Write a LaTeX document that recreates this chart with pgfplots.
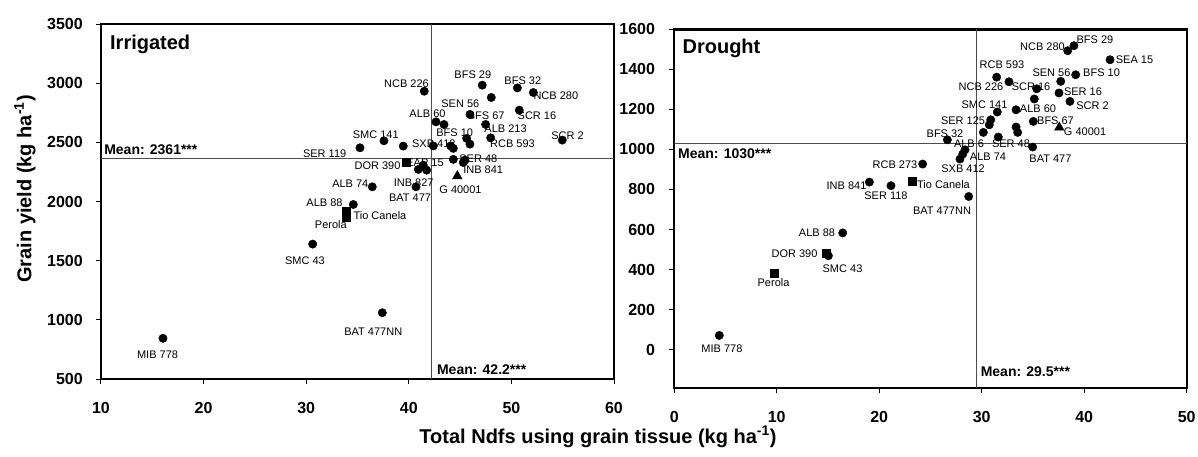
\documentclass[border=0pt]{standalone}
\usepackage{fontspec}
\setmainfont{Liberation Sans}
\usepackage{pgfplots}
\pgfplotsset{compat=1.18}
\newcommand{\lbl}{\fontsize{11}{13}\selectfont}
\newcommand{\mn}{\fontsize{14}{16}\selectfont\bfseries}
\pgfplotsset{
  myaxis/.style={
    scale only axis,
    anchor=south west,
    axis line style={line width=2.4pt},
    tick align=outside,
    major tick length=5pt,
    xtick pos=bottom, ytick pos=left,
    tick style={black, line width=1pt},
    ticklabel style={font=\fontsize{16}{18}\selectfont\bfseries, inner sep=0pt},
    /pgf/number format/assume math mode=true,
    /pgf/number format/1000 sep={},
    xticklabel style={anchor=north},
    yticklabel style={anchor=east},
    clip=false,
  },
  ptc/.style={only marks, mark=*, mark size=4.2pt, black},
  pts/.style={only marks, mark=square*, mark size=4pt, black},
  ptt/.style={only marks, mark=triangle*, mark size=5.5pt, black},
  mline/.style={gray!60!black, line width=0.8pt, no marks},
}
\begin{document}
\begin{tikzpicture}[x=1pt,y=1pt]
\useasboundingbox (-101pt,-77pt) rectangle (1097pt,379pt);
% ---------------- Irrigated ----------------
\begin{axis}[myaxis, at={(0pt,0pt)}, width=513pt, height=355pt,
  xmin=10, xmax=60, ymin=500, ymax=3500,
  xtick={10,20,...,60}, ytick={500,1000,...,3500},
  xticklabel shift=18pt, yticklabel shift=13pt]
\addplot[mline] coordinates {(10,2361) (60,2361)};
\addplot[mline] coordinates {(42.2,500) (42.2,3500)};
\node[font=\lbl, inner sep=0pt] at (axis cs:39.78,2997) {NCB 226};
\node[font=\lbl, inner sep=0pt] at (axis cs:46.24,3068) {BFS 29};
\node[font=\lbl, inner sep=0pt] at (axis cs:51.11,3025) {BFS 32};
\node[font=\lbl, inner sep=0pt] at (axis cs:54.33,2890) {NCB 280};
\node[font=\lbl, inner sep=0pt] at (axis cs:45.02,2829) {SEN 56};
\node[font=\lbl, inner sep=0pt] at (axis cs:47.54,2721) {BFS 67};
\node[font=\lbl, inner sep=0pt] at (axis cs:52.49,2721) {SCR 16};
\node[font=\lbl, inner sep=0pt] at (axis cs:41.82,2744) {ALB 60};
\node[font=\lbl, inner sep=0pt] at (axis cs:49.43,2614) {ALB 213};
\node[font=\lbl, inner sep=0pt] at (axis cs:44.47,2584) {BFS 10};
\node[font=\lbl, inner sep=0pt] at (axis cs:55.47,2552) {SCR 2};
\node[font=\lbl, inner sep=0pt] at (axis cs:36.78,2561) {SMC 141};
\node[font=\lbl, inner sep=0pt] at (axis cs:42.44,2491) {SXB 412};
\node[font=\lbl, inner sep=0pt] at (axis cs:50.11,2485) {RCB 593};
\node[font=\lbl, inner sep=0pt] at (axis cs:31.80,2400) {SER 119};
\node[font=\lbl, inner sep=0pt] at (axis cs:41.58,2327) {EAP 15};
\node[font=\lbl, inner sep=0pt] at (axis cs:46.78,2358) {SER 48};
\node[font=\lbl, inner sep=0pt] at (axis cs:36.95,2299) {DOR 390};
\node[font=\lbl, inner sep=0pt] at (axis cs:47.25,2265) {INB 841};
\node[font=\lbl, inner sep=0pt] at (axis cs:40.48,2158) {INB 827};
\node[font=\lbl, inner sep=0pt] at (axis cs:40.12,2035) {BAT 477};
\node[font=\lbl, inner sep=0pt] at (axis cs:45.04,2102) {G 40001};
\node[font=\lbl, inner sep=0pt] at (axis cs:34.30,2147) {ALB 74};
\node[font=\lbl, inner sep=0pt] at (axis cs:31.78,1992) {ALB 88};
\node[font=\lbl, inner sep=0pt] at (axis cs:37.19,1877) {Tio Canela};
\node[font=\lbl, inner sep=0pt] at (axis cs:32.40,1801) {Perola};
\node[font=\lbl, inner sep=0pt] at (axis cs:29.88,1497) {SMC 43};
\node[font=\lbl, inner sep=0pt] at (axis cs:36.54,900) {BAT 477NN};
\node[font=\lbl, inner sep=0pt] at (axis cs:15.51,703) {MIB 778};
\addplot[ptc] coordinates {
(35.24,2454) (37.58,2513) (39.46,2468) (42.65,2673) (43.43,2651)
(42.39,2470) (44.08,2470) (44.34,2449) (45.64,2533) (45.96,2485)
(45.96,2736) (47.49,2651) (47.98,2538) (50.77,2772) (54.96,2519)
(44.34,2356) (45.31,2330) (45.48,2350) (40.93,2271) (41.74,2265)
(41.41,2307) (40.70,2124) (36.44,2124) (34.59,1975) (30.63,1640)
(16.04,844) (37.42,1060) (41.51,2932) (47.16,2983) (50.58,2960)
(52.14,2921) (48.04,2879)};
\addplot[pts] coordinates {(39.73,2335) (33.85,1921) (33.85,1866)};
\addplot[ptt] coordinates {(44.73,2215)};
\node[font=\fontsize{20}{22}\selectfont\bfseries, anchor=west, inner sep=0pt] at (rel axis cs:0.0175,0.944) {Irrigated};
\node[font=\mn, anchor=west, inner sep=0pt, yshift=9pt] at (axis cs:10.3,2361) {Mean: 2361***};
\node[font=\mn, anchor=west, inner sep=0pt, xshift=5.5pt] at (axis cs:42.2,582) {Mean: 42.2***};
\end{axis}
% ---------------- Drought ----------------
\begin{axis}[myaxis, at={(573.2pt,-8.7pt)}, width=512.5pt, height=358.4pt,
  xmin=0, xmax=50, ymin=-190, ymax=1600,
  xtick={0,10,...,50}, ytick={0,200,...,1600},
  xticklabel shift=18pt, yticklabel shift=14pt]
\addplot[mline] coordinates {(0,1030) (50,1030)};
\addplot[mline] coordinates {(29.5,-190) (29.5,1600)};
\node[font=\lbl, inner sep=0pt] at (axis cs:35.93,1514) {NCB 280};
\node[font=\lbl, inner sep=0pt] at (axis cs:41.05,1548) {BFS 29};
\node[font=\lbl, inner sep=0pt] at (axis cs:44.91,1448) {SEA 15};
\node[font=\lbl, inner sep=0pt] at (axis cs:36.81,1384) {SEN 56};
\node[font=\lbl, inner sep=0pt] at (axis cs:41.69,1383) {BFS 10};
\node[font=\lbl, inner sep=0pt] at (axis cs:31.98,1423) {RCB 593};
\node[font=\lbl, inner sep=0pt] at (axis cs:29.93,1312) {NCB 226};
\node[font=\lbl, inner sep=0pt] at (axis cs:34.81,1312) {SCR 16};
\node[font=\lbl, inner sep=0pt] at (axis cs:39.88,1288) {SER 16};
\node[font=\lbl, inner sep=0pt] at (axis cs:40.81,1218) {SCR 2};
\node[font=\lbl, inner sep=0pt] at (axis cs:30.27,1223) {SMC 141};
\node[font=\lbl, inner sep=0pt] at (axis cs:35.49,1203) {ALB 60};
\node[font=\lbl, inner sep=0pt] at (axis cs:28.18,1145) {SER 125};
\node[font=\lbl, inner sep=0pt] at (axis cs:37.20,1143) {BFS 67};
\node[font=\lbl, inner sep=0pt] at (axis cs:40.08,1088) {G 40001};
\node[font=\lbl, inner sep=0pt] at (axis cs:26.42,1077) {BFS 32};
\node[font=\lbl, inner sep=0pt] at (axis cs:28.76,1027) {ALB 6};
\node[font=\lbl, inner sep=0pt] at (axis cs:32.86,1028) {SER 48};
\node[font=\lbl, inner sep=0pt] at (axis cs:30.61,965) {ALB 74};
\node[font=\lbl, inner sep=0pt] at (axis cs:36.71,954) {BAT 477};
\node[font=\lbl, inner sep=0pt] at (axis cs:28.18,904) {SXB 412};
\node[font=\lbl, inner sep=0pt] at (axis cs:21.54,924) {RCB 273};
\node[font=\lbl, inner sep=0pt] at (axis cs:16.81,819) {INB 841};
\node[font=\lbl, inner sep=0pt] at (axis cs:20.66,769) {SER 118};
\node[font=\lbl, inner sep=0pt] at (axis cs:26.27,827) {Tio Canela};
\node[font=\lbl, inner sep=0pt] at (axis cs:26.13,694) {BAT 477NN};
\node[font=\lbl, inner sep=0pt] at (axis cs:13.93,583) {ALB 88};
\node[font=\lbl, inner sep=0pt] at (axis cs:11.74,479) {DOR 390};
\node[font=\lbl, inner sep=0pt] at (axis cs:16.42,404) {SMC 43};
\node[font=\lbl, inner sep=0pt] at (axis cs:9.69,333) {Perola};
\node[font=\lbl, inner sep=0pt] at (axis cs:4.66,3) {MIB 778};
\addplot[ptc] coordinates {
(38.39,1493) (39.00,1518) (42.52,1448) (39.17,1373) (37.71,1340)
(37.54,1282) (38.61,1240) (31.46,1361) (32.66,1338) (35.37,1303)
(35.13,1252) (33.35,1198) (31.52,1187) (35.03,1140) (30.88,1148)
(30.74,1123) (30.16,1085) (31.62,1062) (33.35,1112) (33.51,1085)
(34.97,1012) (26.65,1048) (28.37,998) (28.15,977) (27.88,952)
(24.24,927) (19.04,837) (21.15,819) (28.73,765) (16.44,583)
(15.04,469) (4.40,71)};
\addplot[pts] coordinates {(14.81,483) (9.77,383) (23.23,840)};
\addplot[ptt] coordinates {(37.57,1110)};
\node[font=\fontsize{20}{22}\selectfont\bfseries, anchor=west, inner sep=0pt] at (rel axis cs:0.016,0.947) {Drought};
\node[font=\mn, anchor=west, inner sep=0pt] at (axis cs:0.37,979) {Mean: 1030***};
\node[font=\mn, anchor=west, inner sep=0pt, xshift=4pt] at (axis cs:29.5,-110) {Mean: 29.5***};
\end{axis}
% axis titles
\node[rotate=90, font=\fontsize{20}{22}\selectfont\bfseries, inner sep=0pt] at (-76pt,190pt) {Grain yield (kg ha\textsuperscript{-1})};
\node[font=\fontsize{20}{22}\selectfont\bfseries, inner sep=0pt] at (497pt,-58pt) {Total Ndfs using grain tissue (kg ha\textsuperscript{-1})};
\end{tikzpicture}
\end{document}
